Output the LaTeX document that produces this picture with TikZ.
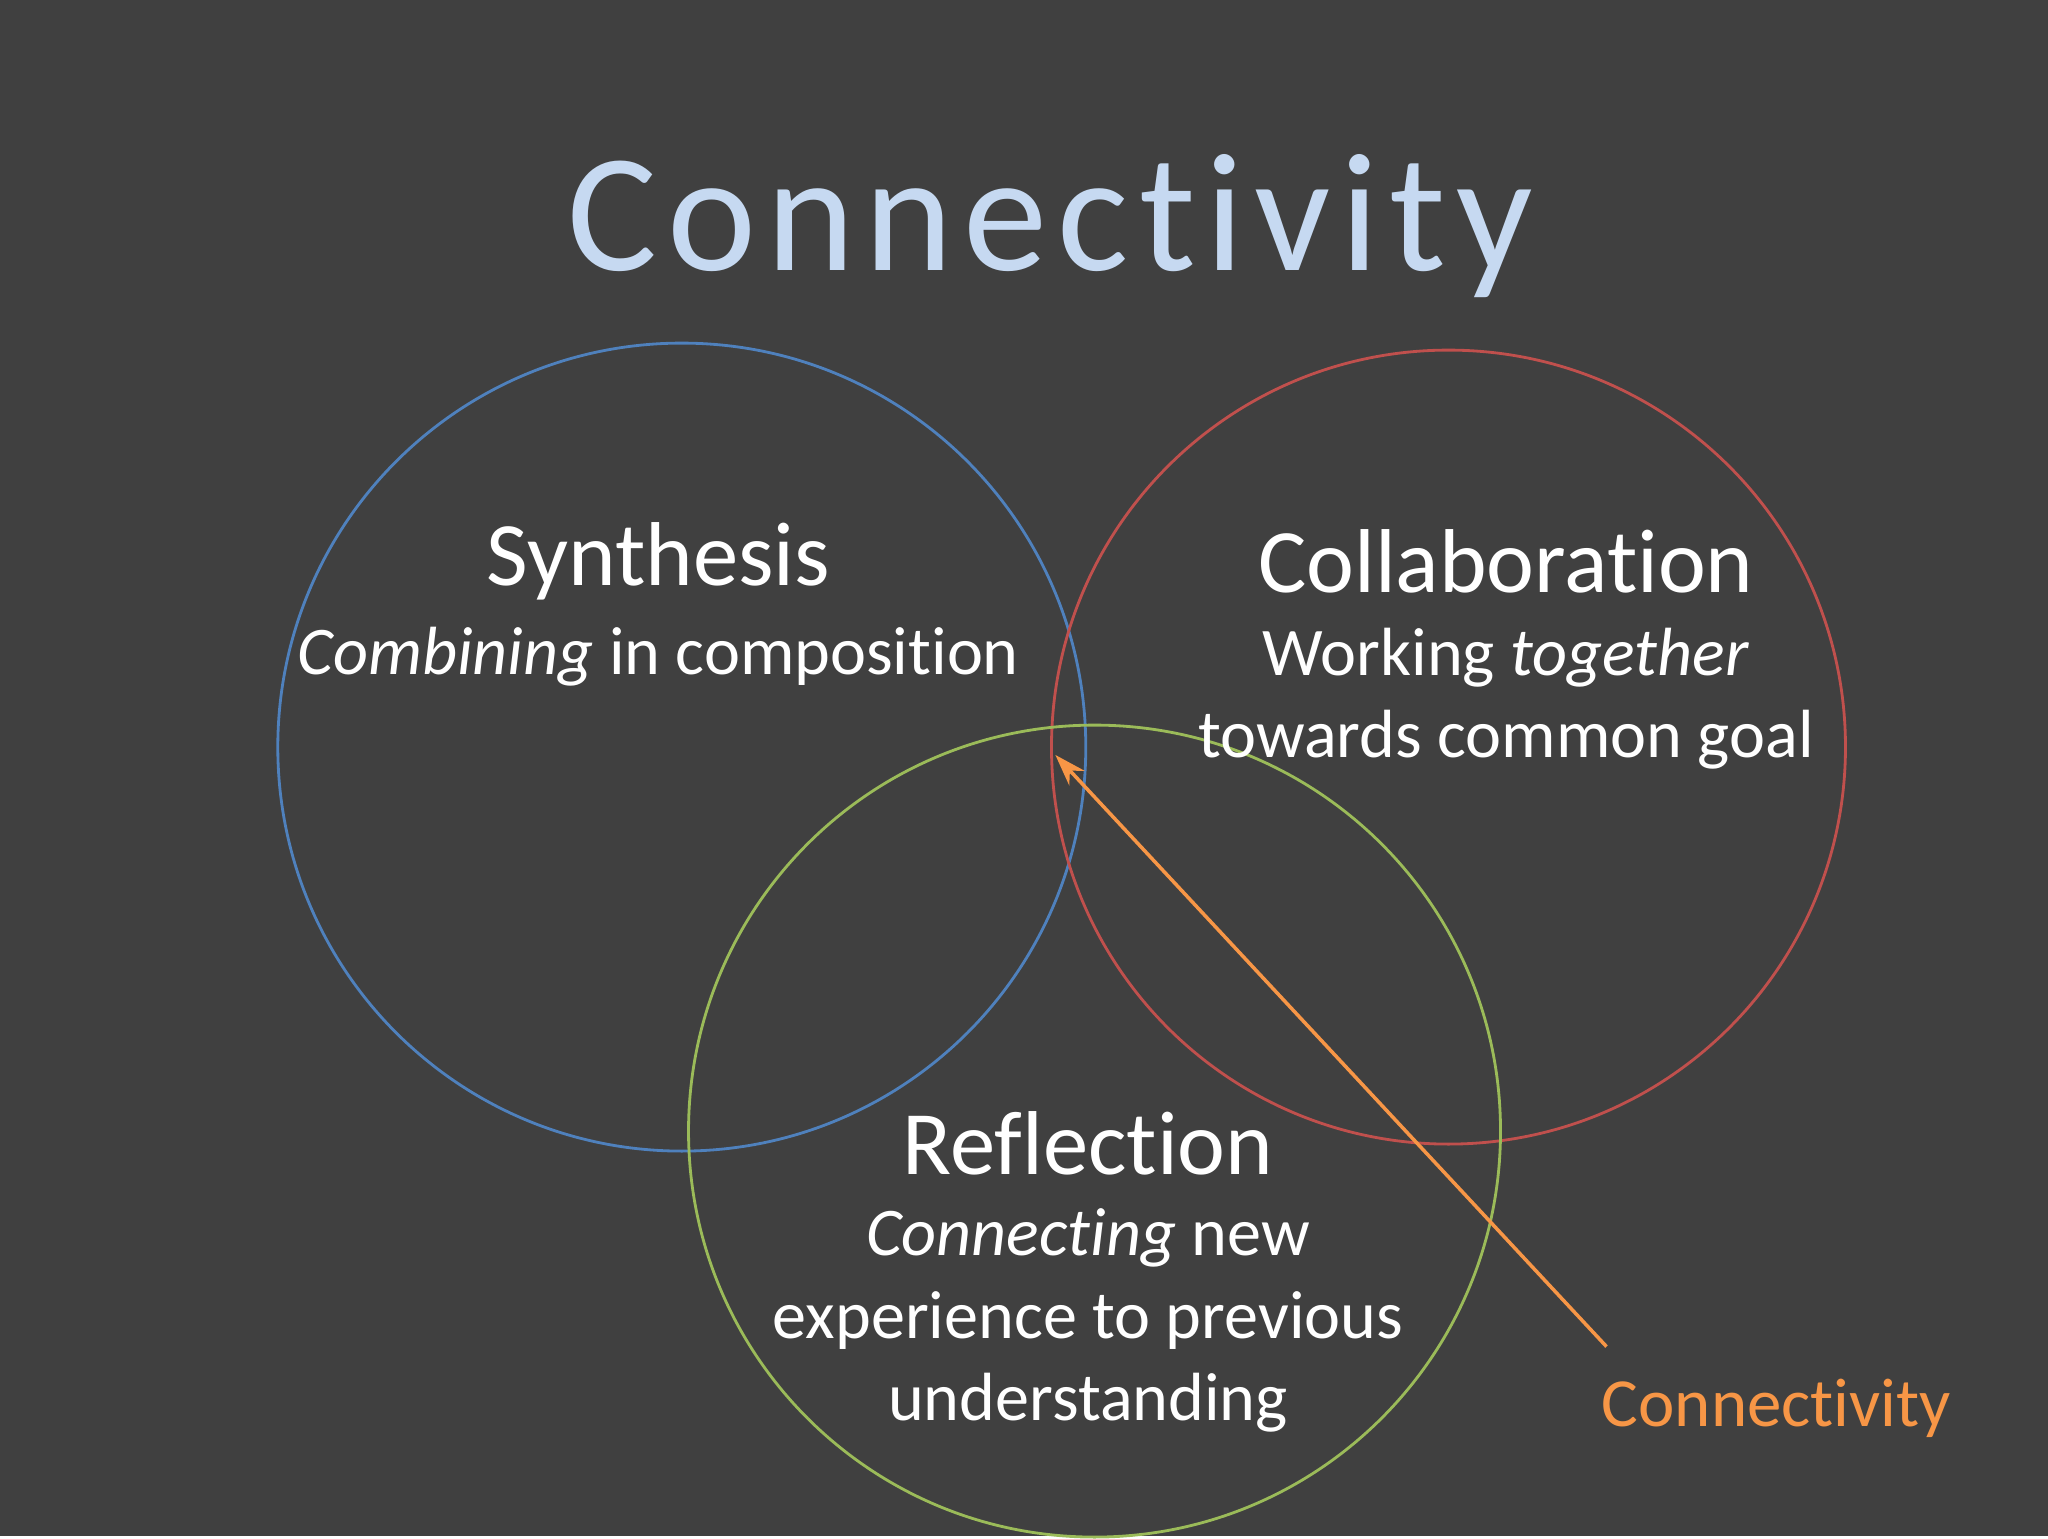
\documentclass[tikz,border=0pt]{standalone}
\usepackage{fontspec}
\setmainfont{Carlito}[Ligatures=NoCommon]
\usetikzlibrary{arrows.meta}
\definecolor{bg}{HTML}{404040}
\definecolor{ttl}{HTML}{C6D9F1}
\definecolor{cblue}{HTML}{4F81BD}
\definecolor{cred}{HTML}{C0504D}
\definecolor{cgreen}{HTML}{9BBB59}
\definecolor{corange}{HTML}{F79646}
\begin{document}
\begin{tikzpicture}[x=0.01306cm,y=-0.01306cm,
  ring/.style={line width=0.8pt},
  head/.style={text=white,font=\fontsize{25.8}{30}\selectfont},
  body/.style={text=white,align=center,font=\fontsize{19.4}{23.4}\selectfont}]
\fill[bg] (0,0) rectangle (1568,1176);
\node[text=ttl,font={\addfontfeature{LetterSpace=6}\fontsize{48}{56}\selectfont}] (title) at (804,173) {Connectivity};
\draw[ring,cblue] (522,572) circle[radius=4.04cm];
\draw[ring,cred] (1109,572) circle[radius=3.97cm];
\draw[ring,cgreen] (838,866) circle[radius=4.06cm];
\node[head] (syn) at (504,430) {Synthesis};
\node[body] (synb) at (504,503) {\textit{Combining} in composition};
\node[head] (col) at (1153,430) {Collaboration};
\node[body] (colb) at (1153,535) {Working \textit{together}\\towards common goal};
\node[head] (ref) at (833,875) {Reflection};
\node[body] (refb) at (833,1011) {\textit{Connecting} new\\experience to previous\\understanding};
\coordinate (tip) at (808,578);
\coordinate (tail) at (1230,1031);
\draw[corange,line width=1pt,-{Stealth[length=9pt,width=6pt]}] (tail) -- (tip);
\node[text=corange,font=\fontsize{19.6}{24}\selectfont] (lab) at (1360,1078) {Connectivity};
\end{tikzpicture}
\end{document}
